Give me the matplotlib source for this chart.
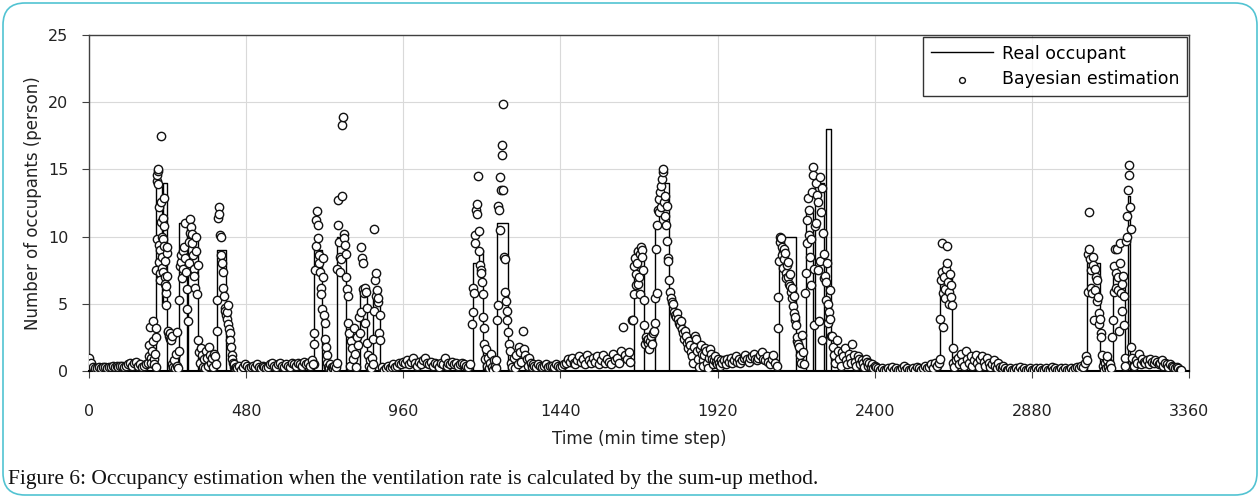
import matplotlib
matplotlib.use('Agg')

import numpy as np
import matplotlib.pyplot as plt
from matplotlib.patches import FancyBboxPatch

# Real occupant: change points (min) and values (person), drawn as steps
occ_t = [0, 205, 224, 226, 238, 274, 300, 303, 332, 392, 417, 688, 712, 759, 786,
         829, 849, 869, 889, 1172, 1190, 1203, 1246, 1279, 1664, 1695, 1728, 1740,
         1771, 2107, 2160, 2191, 2211, 2219, 2245, 2251, 2265, 2600, 2635, 3049,
         3089, 3128, 3165, 3174, 3180, 3360]
occ_v = [0, 14, 5, 14, 0, 11, 0, 10, 0, 9, 0, 9, 0, 10, 0,
         6, 0, 6, 0, 8, 9, 0, 11, 0, 9, 0, 11, 14,
         0, 10, 0, 12, 0, 14, 0, 18, 0, 7, 0, 8,
         0, 7, 0, 13, 0, 0]

# Bayesian estimation, read off in runs (first minute, spacing, values)
est_a = [1.0, 0.6, 0.3, 0.2, 0.2, 0.3, 0.2, 0.3, 0.3, 0.2, 0.3, 0.3, 0.4, 0.3, 0.4,
         0.3, 0.4, 0.4, 0.3, 0.4, 0.5, 0.6, 0.4, 0.6, 0.7, 0.4, 0.5, 0.3, 0.4, 0.5]
est_b = [0.6, 1.1, 1.9, 3.3, 1.0, 0.6, 1.5, 3.7, 2.2, 0.9, 0.5, 1.3, 0.3]
est_c = [3.2, 2.5, 7.5, 9.8, 14.1, 14.6, 14.9, 15.0, 13.9, 12.2, 9.4, 8.1, 7.3, 6.8,
         9.0, 11.1, 17.5, 12.6, 10.0, 8.5, 7.7, 7.4, 9.8, 11.4, 12.9, 10.8, 9.3, 8.2,
         7.0, 6.5, 5.8, 4.9, 6.3, 7.1, 8.8, 9.2]
est_d = [2.9, 3.0, 2.6, 2.8, 2.4, 2.3, 2.6, 0.5, 0.2, 0.3, 0.8, 0.1, 0.2, 1.3, 2.9,
         0.4, 0.2]
est_e = [1.5, 5.3, 7.8, 8.1, 8.6, 6.9, 7.6, 8.9, 9.2, 11.0, 8.4, 7.4, 6.1, 4.6, 3.7,
         8.0, 9.6, 10.3, 11.3, 10.7, 10.2, 9.5, 8.6, 7.6, 7.1, 6.2, 8.9, 10.0, 5.7, 7.9]
est_f = [2.3, 1.4, 0.6, 1.7, 1.2, 0.3, 0.9, 0.2, 1.5, 1.0, 0.4, 1.8, 1.2, 0.6, 1.0,
         0.3, 1.3, 1.1, 0.5]
est_g = [3.0, 5.3, 11.4, 12.2, 11.7, 10.1, 10.0, 8.6, 8.0, 7.4, 6.2, 5.6, 4.7, 4.5,
         4.2, 3.9, 4.4, 4.9, 3.5, 3.1, 2.8, 2.3, 1.8, 1.2, 0.9, 0.6, 0.3, 0.5, 0.2, 0.3]
est_h = [0.2, 0.4, 0.1, 0.3, 0.5, 0.4, 0.2, 0.3, 0.4, 0.3, 0.5, 0.3, 0.2, 0.4, 0.3,
         0.2, 0.3, 0.5, 0.6, 0.4, 0.3, 0.5, 0.6, 0.4, 0.3, 0.5, 0.4, 0.3, 0.6, 0.5,
         0.4, 0.6, 0.5, 0.4, 0.7, 0.5, 0.6, 0.4, 0.8, 0.5]
est_i = [0.5, 2.0, 2.8, 7.5, 9.3, 11.2, 11.9, 10.9, 9.9, 8.6, 8.0, 7.4, 6.2, 5.7,
         4.6, 8.4, 7.0, 4.2, 3.6, 2.4, 1.8, 1.2, 0.6, 0.3]
est_j = [0.2, 0.5, 0.1, 0.3, 0.2, 0.4, 0.1, 0.3, 0.6]
est_k = [7.6, 10.9, 12.7, 9.6, 8.5, 7.4, 8.3, 13.0, 18.3, 18.9, 10.2, 9.9, 9.4, 8.7,
         7.0, 6.1, 5.6]
est_l = [3.6, 2.8, 0.4, 2.2, 1.7, 0.9, 3.2, 1.3, 0.3, 2.5, 1.9, 4.0]
est_m = [2.8, 4.4, 9.2, 8.4, 8.0, 6.1, 5.8, 6.2, 3.6, 5.9, 2.1, 4.7]
est_n = [1.2, 0.4, 0.8, 0.2, 1.0, 0.5]
est_o = [2.4, 4.5, 10.6, 6.8, 5.6, 7.3, 6.0, 5.1, 5.4, 2.8, 2.3, 4.2]
est_p = [0.3, 0.1, 0.2, 0.4, 0.2, 0.3, 0.5, 0.3, 0.4, 0.6, 0.5, 0.7, 0.6, 0.8, 0.5,
         0.7, 1.0, 0.6, 0.4, 0.7, 0.5, 0.8, 1.0, 0.6, 0.5, 0.7, 0.4, 0.6, 0.5, 0.3,
         0.6, 0.5, 1.0, 0.4, 0.6, 0.5, 0.7, 0.5, 0.6, 0.4, 0.5, 0.6, 0.5, 0.4, 0.3, 0.5]
est_q = [3.5, 4.4, 6.2, 5.8, 10.1, 9.5, 12.0, 12.4, 11.7, 14.5, 10.4, 8.9, 7.9, 7.5,
         7.3, 6.6, 5.7, 4.0, 3.2, 2.0, 0.9]
est_r = [1.6, 0.4, 1.0, 0.2, 0.6, 1.3, 0.3, 0.1, 0.8, 0.4, 0.2]
est_s = [0.8, 3.8, 4.9, 12.3, 12.0, 10.5, 14.4, 13.5, 16.1, 16.8, 19.9, 13.5, 8.5,
         8.3, 5.9, 5.2, 4.5, 3.8, 2.9, 2.0]
est_t = [1.5, 0.6, 0.3, 1.0, 0.2, 1.2, 0.5, 1.8, 1.4, 0.7, 3.0, 1.6, 1.2, 0.9, 0.4,
         1.0, 0.6, 0.3, 0.5]
est_u = [0.4, 0.3, 0.5, 0.4, 0.3, 0.4, 0.5, 0.3, 0.4, 0.4, 0.3, 0.5, 0.4, 0.3, 0.4,
         0.5, 0.6, 0.9, 0.7, 1.0, 0.6, 0.5, 0.8, 1.1, 0.7, 0.9, 0.5, 1.2, 0.8, 0.6,
         1.0, 0.7, 1.1, 0.5, 0.8, 1.2, 0.6, 0.9, 0.7, 0.5, 1.3, 0.8, 1.0, 0.6, 1.5,
         3.3, 1.2, 0.9, 1.4, 0.7, 3.8]
est_v = [3.8, 5.7, 7.8, 8.4, 6.4, 7.2, 8.0, 8.9, 6.5, 7.0, 5.7, 8.7, 9.2, 9.0, 8.5,
         7.5, 5.3, 3.4, 2.0]
est_w = [2.5, 2.3, 2.1, 2.4, 1.6, 2.2, 2.6, 2.0, 2.8, 3.0]
est_x = [3.6, 5.4, 9.1, 5.8, 10.9, 12.0, 11.8, 12.8, 13.3, 12.2, 13.8, 14.3, 14.8,
         15.0, 12.6, 13.0, 11.5, 10.9, 9.7, 12.3, 8.4, 8.2, 6.8]
est_y = [5.9, 5.4, 5.1, 5.0, 4.4, 4.2, 4.0, 4.3, 3.9, 3.6, 3.4, 3.7, 3.1, 2.8, 2.4,
         3.0, 2.6, 2.1, 1.7, 2.2, 1.9, 1.4, 1.1, 0.6, 1.8, 2.6, 2.4, 1.5, 0.9, 0.3,
         1.6, 1.9, 1.3, 0.8, 0.4, 1.2, 1.7, 1.5, 0.6, 0.2, 1.0, 1.6, 1.3, 0.9, 0.5,
         0.8, 1.1, 0.7, 0.5, 0.9, 0.6, 0.4, 0.8]
est_z = [0.6, 0.8, 0.5, 0.9, 0.7, 1.0, 0.6, 0.8, 1.1, 0.7, 0.9, 0.6, 0.8, 1.0, 1.2,
         0.9, 0.7, 1.0, 1.1, 1.3, 0.9, 0.8, 1.0, 1.2, 1.4, 0.9, 0.8, 1.1, 0.7, 0.5,
         0.9, 1.2, 0.6, 0.4]
est_aa = [3.2, 5.5, 8.2, 9.6, 10.0, 9.9, 9.2, 8.6, 7.7, 8.3, 9.1, 8.8, 7.3, 6.9, 7.9,
          8.1, 7.0, 6.5, 6.3, 7.2, 5.9, 5.4, 6.2, 4.8, 5.6, 4.3, 3.8, 4.0, 3.4, 2.2]
est_ab = [2.5, 2.0, 1.8, 1.2, 0.6, 2.7, 1.4, 0.5]
est_ac = [5.8, 7.3, 9.5, 11.2, 12.9, 12.0, 10.1, 8.5, 6.4, 9.8, 13.3, 15.2,
          14.6, 3.4, 7.6, 10.8,
          11.0, 14.0, 13.1, 12.6, 7.5, 3.7, 14.4, 8.2, 11.8, 2.3, 13.6, 10.3, 6.9,
          8.7, 7.1, 5.3, 6.6, 8.0, 3.6, 5.0, 4.4, 6.0, 3.9, 2.6]
est_ad = [2.6, 1.8, 1.2, 0.6, 2.3, 1.5, 0.9, 0.4, 1.4, 1.1, 1.7, 0.8, 0.5, 1.3, 1.0,
          0.6, 2.0, 1.2, 0.7, 0.4, 1.1, 0.9, 0.5, 0.8, 0.6, 0.3, 0.9, 0.7, 0.4, 0.6,
          0.3, 0.5, 0.2, 0.4]
est_ae = [0.3, 0.2, 0.1, 0.2, 0.1, 0.1, 0.2, 0.1, 0.3, 0.1, 0.2, 0.1, 0.1, 0.2, 0.4,
          0.1, 0.2, 0.1, 0.1, 0.2, 0.1, 0.3, 0.2, 0.1, 0.2, 0.4, 0.2, 0.3, 0.5, 0.2,
          0.6, 0.4]
est_af = [0.6, 0.9, 3.9, 6.8, 9.5, 7.4, 3.3, 5.8, 7.0, 6.1, 5.4, 7.6, 9.3, 8.0, 6.6,
          5.9, 5.0, 7.2, 5.5, 6.4, 4.9, 1.7, 0.6]
est_ag = [0.3, 0.8, 1.0, 0.5, 1.3, 0.7, 0.4, 1.5, 0.9, 0.6, 1.1, 0.4, 0.8, 1.2, 0.6,
          0.3, 0.9, 1.1, 0.7, 0.4, 1.0, 0.6, 0.3, 0.5, 0.8, 0.4, 0.2, 0.6, 0.3, 0.2,
          0.4, 0.2, 0.1]
est_ah = [0.1, 0.2, 0.1, 0.1, 0.2, 0.1, 0.3, 0.1, 0.2, 0.1, 0.1, 0.2, 0.1, 0.1, 0.2,
          0.1, 0.2, 0.1, 0.1, 0.2, 0.1, 0.1, 0.3, 0.1, 0.2, 0.1, 0.1, 0.2, 0.1, 0.2,
          0.1, 0.1, 0.2, 0.1, 0.2, 0.3, 0.2, 0.4, 0.3, 0.6]
est_ai = [1.1, 0.8, 5.9, 8.7, 11.8, 9.1, 8.3, 7.5, 6.2, 5.8, 8.5, 7.9, 3.8, 6.0, 7.6,
          7.0, 5.2, 6.8, 5.5, 4.3, 3.5, 3.9, 2.8, 2.5, 1.2]
est_aj = [0.4, 0.1, 0.6, 0.2, 0.8, 1.1, 0.3, 0.1, 0.5, 0.2]
est_ak = [2.5, 3.8, 5.9, 7.8, 9.1, 7.3, 6.2, 9.1, 7.0, 6.0, 3.0, 9.5, 8.0, 5.8, 4.5,
          6.5, 7.1, 5.6, 3.4, 1.0, 0.4, 9.7, 10.0, 11.5, 13.5, 15.3, 14.6, 12.2, 10.6,
          1.8]
est_al = [1.0, 0.4, 0.8, 0.6, 1.3, 0.5, 0.9, 0.7, 0.6, 0.8, 0.5, 0.9, 0.7, 0.6, 0.8,
          0.7, 0.5, 0.6, 0.8, 0.4, 0.6, 0.5, 0.3, 0.5, 0.4, 0.3, 0.2, 0.3, 0.2, 0.1,
          0.1]

est_runs = [est_a, est_b, est_c, est_d, est_e, est_f, est_g, est_h, est_i, est_j,
            est_k, est_l, est_m, est_n, est_o, est_p, est_q, est_r, est_s, est_t,
            est_u, est_v, est_w, est_x, est_y, est_z, est_aa, est_ab, est_ac, est_ad,
            est_ae, est_af, est_ag, est_ah, est_ai, est_aj, est_ak, est_al]
run_start = [0, 180, 204, 240, 274, 334, 390, 452, 684, 732,
             758, 792, 828, 852, 868, 894, 1170, 1212, 1244, 1285,
             1360, 1662, 1700, 1728, 1775, 1935, 2104, 2164, 2188, 2268,
             2404, 2596, 2643, 2808, 3046, 3096, 3126, 3187]
run_step = [6, 2, 1, 2, 2, 3, 2, 6, 2, 3,
            2, 3, 2, 3, 2, 6, 2, 3, 2, 4,
            6, 2, 3, 2, 3, 5, 2, 3, 2, 4,
            6, 2, 5, 6, 2, 3, 2, 5]

x_ticks = [0, 480, 960, 1440, 1920, 2400, 2880, 3360]
y_ticks = [0, 5, 10, 15, 20, 25]

est_time = np.concatenate([s + d * np.arange(len(v))
                           for s, d, v in zip(run_start, run_step, est_runs)])
est_val = np.concatenate(est_runs)

fig = plt.figure(figsize=(12.6, 4.98), dpi=100)
ax = fig.add_axes([89 / 1260, 127 / 498, 1100 / 1260, 336 / 498])

ax.plot(occ_t, occ_v, drawstyle='steps-post', color='black', lw=1.0,
        label='Real occupant', zorder=3)
ax.scatter(est_time, est_val, s=36, facecolor='white', edgecolor='#111111',
           linewidths=1.0, zorder=4, label='Bayesian estimation')

ax.set_xlim(0, 3360)
ax.set_ylim(0, 25)
ax.set_xticks(x_ticks)
ax.set_yticks(y_ticks)
ax.grid(True, color='#d9d9d9', lw=0.8)
ax.set_axisbelow(True)
for sp in ax.spines.values():
    sp.set_color('#404040')
    sp.set_linewidth(1.0)
ax.spines['bottom'].set_color('black')
ax.spines['bottom'].set_linewidth(1.5)
ax.tick_params(axis='x', direction='out', length=5, pad=19, labelsize=11.5,
               color='#404040', labelcolor='#222222')
ax.tick_params(axis='y', direction='out', length=5, pad=10, labelsize=11.5,
               color='#404040', labelcolor='#222222')
ax.set_xlabel('Time (min time step)', fontsize=12, color='#222222', labelpad=8)
ax.set_ylabel('Number of occupants (person)', fontsize=12, color='#222222',
              labelpad=4)

leg = ax.legend(loc='upper right', bbox_to_anchor=(1.0, 1.0), borderaxespad=0.1,
                fontsize=12.5, frameon=True, fancybox=False, handlelength=3.6,
                handletextpad=0.5, markerscale=0.7, borderpad=0.45,
                labelspacing=0.45)
leg.get_frame().set_edgecolor('black')
leg.get_frame().set_linewidth(1.0)

border = FancyBboxPatch((3, 3), 1254, 492, boxstyle='round,pad=0,rounding_size=22',
                        transform=None, facecolor='none', edgecolor='#52c3d2', lw=1.2)
fig.patches.append(border)

fig.text(8 / 1260, 19 / 498,
         'Figure 6: Occupancy estimation when the ventilation rate is calculated by the sum-up method.',
         family='Liberation Serif', fontsize=15.5, va='center', ha='left', color='#111111')

fig.savefig('out.png', dpi=100)
